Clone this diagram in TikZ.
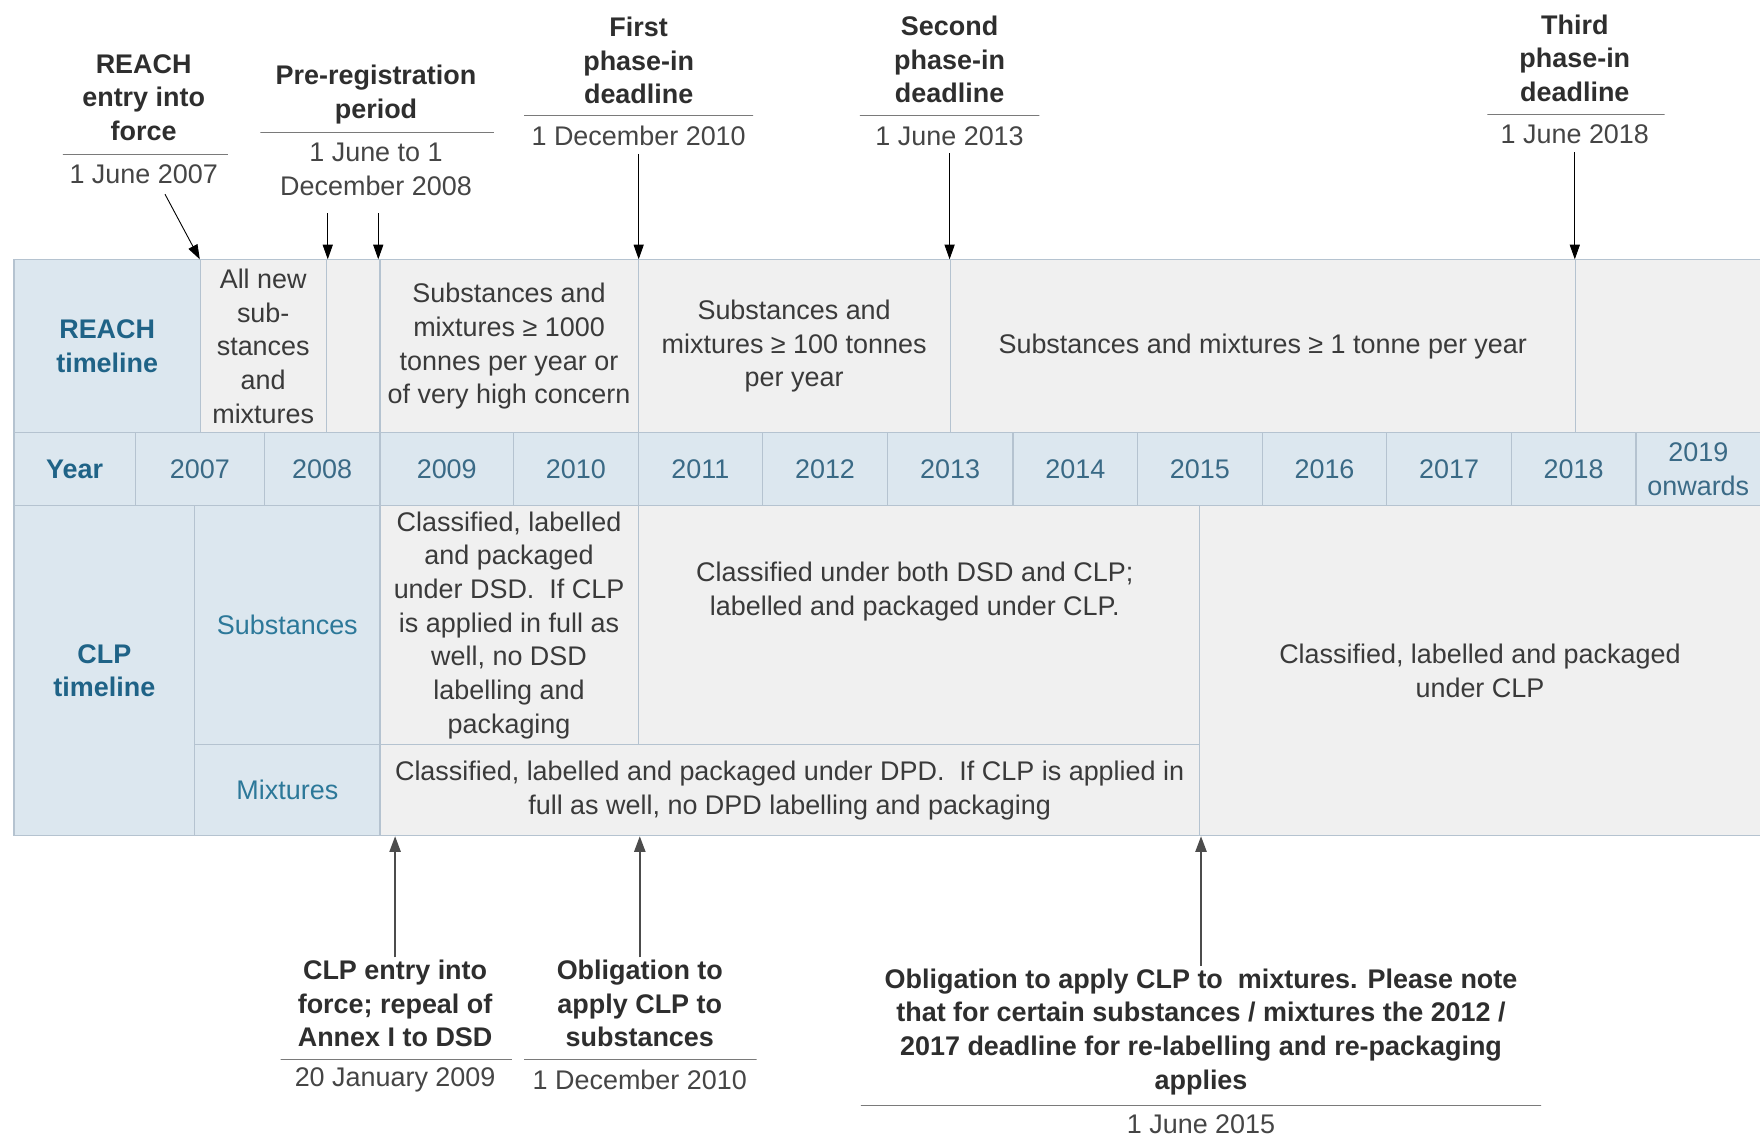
\documentclass[tikz,border=0pt]{standalone}
\usepackage{fontspec}
\setmainfont{Liberation Sans}
\usetikzlibrary{arrows.meta}
\definecolor{hdrblue}{HTML}{DCE7EF}
\definecolor{cellgray}{HTML}{F0F0F0}
\definecolor{bordercol}{HTML}{B5C3D0}
\definecolor{tealtxt}{HTML}{1F6387}
\definecolor{yeartxt}{HTML}{3A6A86}
\definecolor{subtxt}{HTML}{2C7899}
\definecolor{bodytxt}{HTML}{3A3A3A}
\definecolor{ttltxt}{HTML}{2E2E2E}
\definecolor{datetxt}{HTML}{454545}
\definecolor{rulecol}{HTML}{7A7A7A}
\begin{document}
\begin{tikzpicture}[x=1pt,y=-1pt,
  every node/.style={font=\fontsize{24}{30}\selectfont},
  cellbase/.style={draw=bordercol, line width=1pt, inner sep=0pt, anchor=north west, align=center},
  bcell/.style={cellbase, fill=hdrblue, text=yeartxt},
  gcell/.style={cellbase, fill=cellgray, text=bodytxt},
  hdr/.style={font=\fontsize{24}{30}\selectfont\bfseries, text=tealtxt},
  ttl/.style={font=\fontsize{24}{30}\selectfont\bfseries, text=ttltxt, align=center, inner sep=2pt},
  dte/.style={text=datetxt, align=center, inner sep=2pt},
  hrule/.style={draw=rulecol, line width=1pt, minimum height=0pt, inner sep=0pt},
  arr/.style={draw=black, line width=0.8pt, -{Triangle[length=13pt,width=9pt]}},
  arrup/.style={draw=black!70, line width=1.6pt, -{Triangle[length=14pt,width=10pt]}},
]
\useasboundingbox[fill=white] (0,0) rectangle (1568,1015);

% ---------- REACH row ----------
\node[bcell, hdr, minimum width=166pt, minimum height=154pt] (reachlbl) at (12,231) {REACH\\timeline};
\node[gcell, minimum width=112pt, minimum height=154pt] (allnew) at (178,231) {All new\\sub-\\stances\\and\\mixtures};
\node[gcell, minimum width=48pt, minimum height=154pt] (prereg) at (290,231) {};
\node[gcell, minimum width=230pt, minimum height=154pt] (r1000) at (338,231) {Substances and\\mixtures ≥ 1000\\tonnes per year or\\of very high concern};
\node[gcell, minimum width=278pt, minimum height=154pt] (r100) at (568,231) {Substances and\\mixtures ≥ 100 tonnes\\per year};
\node[gcell, minimum width=557pt, minimum height=154pt] (r1) at (846,231) {Substances and mixtures ≥ 1 tonne per year};
\node[gcell, minimum width=165pt, minimum height=154pt] (rlast) at (1403,231) {};

% ---------- Year row ----------
\node[bcell, hdr, minimum width=108pt, minimum height=65pt] (yearlbl) at (12,385) {Year};
\node[bcell, minimum width=115pt, minimum height=65pt] (y2007) at (120,385) {2007};
\node[bcell, minimum width=103pt, minimum height=65pt] (y2008) at (235,385) {2008};
\node[bcell, minimum width=119pt, minimum height=65pt] (y2009) at (338,385) {2009};
\node[bcell, minimum width=111pt, minimum height=65pt] (y2010) at (457,385) {2010};
\node[bcell, minimum width=111pt, minimum height=65pt] (y2011) at (568,385) {2011};
\node[bcell, minimum width=111pt, minimum height=65pt] (y2012) at (679,385) {2012};
\node[bcell, minimum width=112pt, minimum height=65pt] (y2013) at (790,385) {2013};
\node[bcell, minimum width=111pt, minimum height=65pt] (y2014) at (902,385) {2014};
\node[bcell, minimum width=111pt, minimum height=65pt] (y2015) at (1013,385) {2015};
\node[bcell, minimum width=111pt, minimum height=65pt] (y2016) at (1124,385) {2016};
\node[bcell, minimum width=111pt, minimum height=65pt] (y2017) at (1235,385) {2017};
\node[bcell, minimum width=111pt, minimum height=65pt] (y2018) at (1346,385) {2018};
\node[bcell, minimum width=111pt, minimum height=65pt] (y2019) at (1457,385) {2019\\onwards};

% ---------- CLP rows ----------
\node[bcell, hdr, minimum width=161pt, minimum height=294pt] (clplbl) at (12,450) {CLP\\timeline};
\node[bcell, text=subtxt, minimum width=165pt, minimum height=213pt] (subst) at (173,450) {Substances};
\node[bcell, text=subtxt, minimum width=165pt, minimum height=81pt] (mixt) at (173,663) {Mixtures};
\node[gcell, minimum width=230pt, minimum height=213pt] (dsd) at (338,450) {Classified, labelled\\and packaged\\under DSD.\ \ If CLP\\is applied in full as\\well, no DSD\\labelling and\\packaging};
\node[gcell, minimum width=500pt, minimum height=213pt] (both) at (568,450) {};
\node[text=bodytxt, align=center] (bothtxt) at (815,527) {Classified under both DSD and CLP;\\labelled and packaged under CLP.};
\node[gcell, minimum width=730pt, minimum height=81pt] (dpd) at (338,663) {Classified, labelled and packaged under DPD.\ \ If CLP is applied in\\full as well, no DPD labelling and packaging};
\node[gcell, minimum width=500pt, minimum height=294pt] (clpfinal) at (1068,450) {Classified, labelled and packaged\\under CLP};

% ---------- Top annotations ----------
\node[ttl] (t1) at (128,87) {REACH\\entry into\\force};
\node[hrule, minimum width=147pt] (u1) at (129.5,138) {};
\node[dte] (d1) at (128,155) {1 June 2007};
\coordinate (s1) at (147,173);
\draw[arr] (s1) -- (allnew.north west);

\node[ttl] (t2) at (335,84) {Pre-registration\\period};
\node[hrule, minimum width=208pt] (u2) at (336,118) {};
\node[dte] (d2) at (335,151) {1 June to 1\\December 2008};
\coordinate (s2) at (292,190);
\coordinate (s3) at (337,190);
\draw[arr] (s2) -- (s2 |- allnew.north);
\draw[arr] (s3) -- (s3 |- r1000.north);

\node[ttl] (t3) at (569,54) {First\\phase-in\\deadline};
\node[hrule, minimum width=204pt] (u3) at (569,103) {};
\node[dte] (d3) at (569,121) {1 December 2010};
\draw[arr, shorten <=5pt] (d3.south) -- (d3.south |- r100.north);

\node[ttl] (t4) at (846,53) {Second\\phase-in\\deadline};
\node[hrule, minimum width=160pt] (u4) at (846,103) {};
\node[dte] (d4) at (846,121) {1 June 2013};
\draw[arr, shorten <=5pt] (d4.south) -- (d4.south |- r1.north);

\node[ttl] (t5) at (1403,52) {Third\\phase-in\\deadline};
\node[hrule, minimum width=158pt] (u5) at (1404,102) {};
\node[dte] (d5) at (1403,120) {1 June 2018};
\draw[arr, shorten <=5pt] (d5.south) -- (d5.south |- rlast.north);

% ---------- Bottom annotations ----------
\node[ttl] (b1) at (352,894) {CLP entry into\\force; repeal of\\Annex I to DSD};
\node[hrule, minimum width=206pt] (u6) at (353,944) {};
\node[dte] (d6) at (352,962) {20 January 2009};
\draw[arrup] (b1.north) -- (b1.north |- dpd.south);

\node[ttl] (b2) at (570,894) {Obligation to\\apply CLP to\\substances};
\node[hrule, minimum width=207pt] (u7) at (570.5,944) {};
\node[dte] (d7) at (570,962) {1 December 2010};
\draw[arrup] (b2.north) -- (b2.north |- dpd.south);

\node[ttl] (b3) at (1070,919) {Obligation to apply CLP to\ \ mixtures. Please note\\that for certain substances / mixtures the 2012 /\\2017 deadline for re-labelling and re-packaging\\applies};
\node[hrule, minimum width=606pt] (u8) at (1070,985) {};
\node[dte] (d8) at (1070,1002) {1 June 2015};
\draw[arrup] (b3.north) -- (b3.north |- clpfinal.south);
\end{tikzpicture}
\end{document}
